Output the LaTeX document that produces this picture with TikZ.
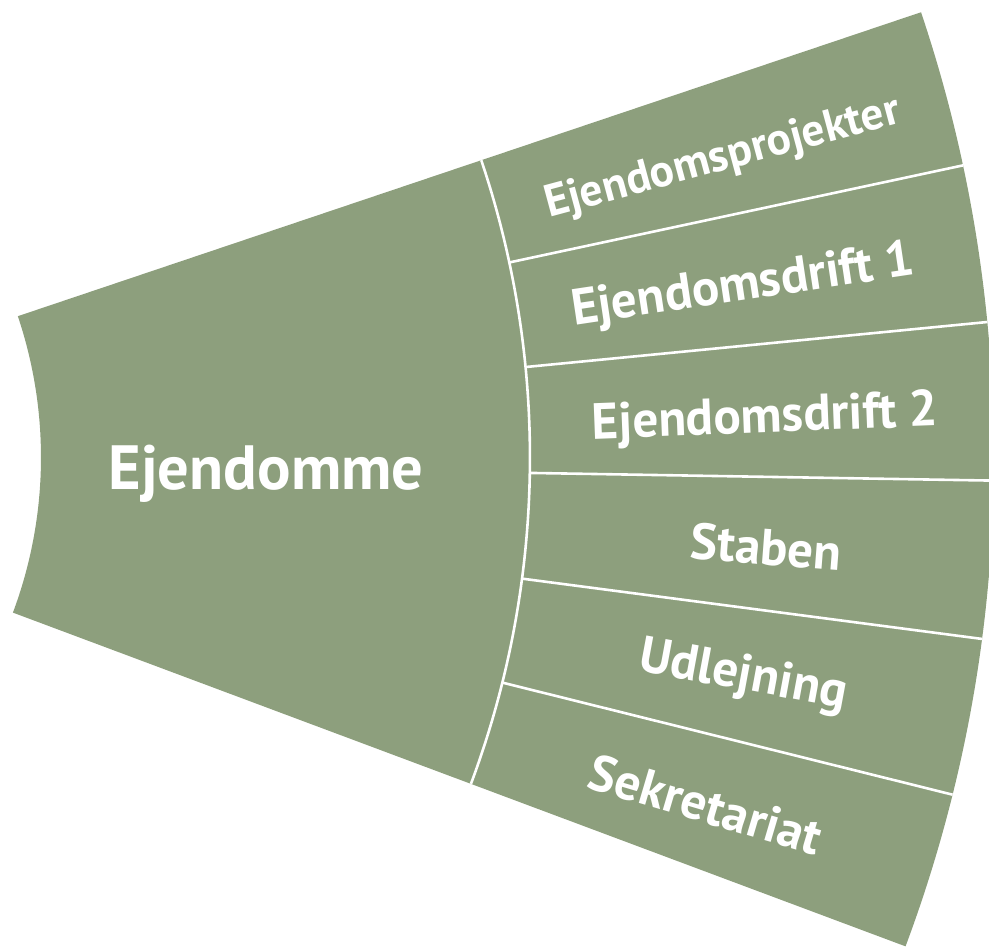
\documentclass[tikz,border=0pt]{standalone}
\usepackage{fontspec}
\setmainfont{PT Sans}
\usepackage{tikz}
\definecolor{fangreen}{RGB}{141,159,125}

\begin{document}
\begin{tikzpicture}[
    x=1pt, y=1pt,
    fan/.style={fill=fangreen},
    divider/.style={draw=white, line width=2.6pt},
    unittext/.style={text=white, inner sep=0pt, text height=35.5pt, text depth=0pt, font=\bfseries\fontsize{51}{51}\selectfont},
    smallunit/.style={unittext, text height=32pt, font=\bfseries\fontsize{45.5}{45.5}\selectfont},
    maintext/.style={text=white, inner sep=0pt, text height=43.5pt, text depth=0pt, font=\bfseries\fontsize{62.5}{62.5}\selectfont}
]
\useasboundingbox (0,0) rectangle (989,949);
\clip (0,0) rectangle (989,949);
\coordinate (c) at (-402,491.5);

% the whole fan
\fill[fan] ([shift={(18.6:443)}]c) arc[start angle=18.6, end angle=-20.5, radius=443]
    -- ([shift={(-20.5:1396)}]c) arc[start angle=-20.5, end angle=18.6, radius=1396] -- cycle;

% inner arc and dividers
\draw[divider] ([shift={(18.6:932)}]c) arc[start angle=18.6, end angle=-20.5, radius=932];
\draw[divider] ([shift={(12.08:932)}]c) -- ([shift={(12.08:1396)}]c);
\draw[divider] ([shift={(5.57:932)}]c) -- ([shift={(5.57:1396)}]c);
\draw[divider] ([shift={(-0.95:932)}]c) -- ([shift={(-0.95:1396)}]c);
\draw[divider] ([shift={(-7.47:932)}]c) -- ([shift={(-7.47:1396)}]c);
\draw[divider] ([shift={(-13.98:932)}]c) -- ([shift={(-13.98:1396)}]c);

% labels
\node[maintext] (ejendomme) at (266,481) {Ejendomme};
\node[smallunit, rotate=15.1] (projekter) at ([shift={(15.1:1164)}]c) {Ejendomsprojekter};
\node[unittext, rotate=8.5] (drift1) at ([shift={(8.7:1158)}]c) {Ejendomsdrift 1};
\node[unittext, rotate=2.2] (drift2) at ([shift={(2.1:1168)}]c) {Ejendomsdrift 2};
\node[unittext, rotate=-4.4] (staben) at ([shift={(-4.37:1172)}]c) {Staben};
\node[unittext, rotate=-10.5] (udlejning) at ([shift={(-10.6:1166)}]c) {Udlejning};
\node[unittext, rotate=-16.5] (sekretariat) at ([shift={(-17.4:1161)}]c) {Sekretariat};

\end{tikzpicture}
\end{document}
